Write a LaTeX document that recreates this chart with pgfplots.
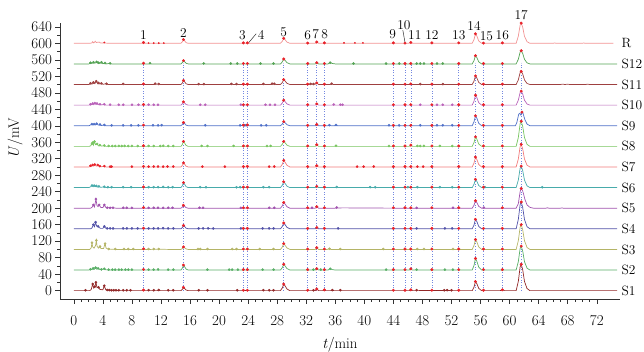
\documentclass[border=0pt]{standalone}
\usepackage{pgfplots}
\pgfplotsset{compat=1.18}
\definecolor{cR}{HTML}{F29393}
\definecolor{cSa}{HTML}{55A355}
\definecolor{cSb}{HTML}{9E4040}
\definecolor{cSc}{HTML}{B962B9}
\definecolor{cSd}{HTML}{4F70C8}
\definecolor{cSe}{HTML}{78C560}
\definecolor{cSf}{HTML}{F27B7B}
\definecolor{cSg}{HTML}{48ABAB}
\definecolor{cSh}{HTML}{A052AE}
\definecolor{cSi}{HTML}{5252A8}
\definecolor{cSj}{HTML}{B4B466}
\definecolor{cSk}{HTML}{58AE66}
\definecolor{cSl}{HTML}{922828}
\definecolor{rdot}{HTML}{E8222A}
\definecolor{vline}{HTML}{7488E0}
\newcommand\pl{\fontsize{13.5}{16}\selectfont}
\begin{document}
\begin{tikzpicture}
\begin{axis}[
  scale only axis, width=560bp, height=276.6bp,
  xmin=-1.9, xmax=75.2, ymin=-21, ymax=650,
  axis x line=bottom, axis y line=left, axis line style={-, black!80, line width=0.6pt},
  tick align=outside, major tick length=4.5bp, minor tick length=2.5bp,
  tick style={black!80, line width=0.5pt},
  xtick={0,4,...,72}, minor x tick num=3,
  ytick={0,40,...,640}, minor y tick num=1,
  /pgf/number format/assume math mode=true,
  tick label style={font=\fontsize{15}{18}\selectfont},
  label style={font=\fontsize{15}{18}\selectfont},
  xticklabel style={yshift=-8bp},
  xlabel={\textit{t}/min},
  xlabel style={at={(axis description cs:0.5,0)}, anchor=center, yshift=-45.7bp},
  ylabel={\textit{U}/mV},
  ylabel style={at={(axis description cs:-0.080,0.583)}, anchor=center},
  clip=false,
  unbounded coords=jump,
]
% vertical dotted lines
\addplot[vline, dotted, line width=0.6pt] coordinates {
(9.6,0)(9.6,553)(9.6,nan)(15.1,0)(15.1,553)(15.1,nan)(23.35,0)(23.35,553)(23.35,nan)
(23.9,0)(23.9,553)(23.9,nan)(28.9,0)(28.9,553)(28.9,nan)(32.2,0)(32.2,553)(32.2,nan)
(33.45,0)(33.45,553)(33.45,nan)(34.5,0)(34.5,553)(34.5,nan)(44.0,0)(44.0,553)(44.0,nan)
(45.6,0)(45.6,553)(45.6,nan)(46.4,0)(46.4,553)(46.4,nan)(49.3,0)(49.3,553)(49.3,nan)
(53.0,0)(53.0,553)(53.0,nan)(55.3,0)(55.3,553)(55.3,nan)(56.4,0)(56.4,553)(56.4,nan)
(59.0,0)(59.0,553)(59.0,nan)(61.6,0)(61.6,553)};

% ---------- R ----------
\addplot[cR, line width=0.7pt] coordinates {
(0,600)(2.2,600)(2.5,601)(2.6,604)(2.75,601)(2.95,605)(3.1,602)(3.5,603)(3.7,600.5)(4.1,600.5)(4.2,602)(4.35,600.5)(5,600)
(9.45,600)(9.6,602)(9.75,600)
(14.75,600)(14.95,603.6)(15.1,609)(15.25,606.3)(15.45,601.8)(15.75,600)
(23.2,600)(23.35,601)(23.6,600)(23.8,600)(23.9,601)(24.05,600)
(28.45,600)(28.7,604.8)(28.9,612)(29.1,608.4)(29.35,603)(29.75,600)
(33.25,600)(33.45,603)(33.7,600)(37,600)(37.2,601)(37.4,600)(38.5,600)(38.7,601)(38.9,600)(39.6,600)(39.8,601)(40,600)
(46.2,600)(46.4,602)(46.6,600)
(54.85,600)(55.1,609.2)(55.3,623)(55.5,617.25)(55.75,605.75)(56.15,600)
(60.9,600)(61.2,617.15)(61.45,644.1)(61.6,649)(61.8,639.2)(62.05,617.15)(62.4,603.9)(62.8,600)
(66,600)(66.2,601)(66.4,600)(70,600)(70.2,600.8)(70.4,600)(74.3,600)};
\addplot[only marks, mark=*, mark size=0.7pt, rdot] coordinates {
(4.2,602)(10.3,600.5)(11.0,600.5)(11.7,600.5)(12.4,600.5)(37.2,601)(38.7,601)(39.8,601)};
\addplot[only marks, mark=*, mark size=1.3pt, rdot] coordinates {
(9.6,602)(15.1,609)(23.35,601)(23.9,601)(28.9,612)(32.2,600.5)(33.45,603)(34.5,601)(44.0,601)(45.6,600.5)(46.4,602)(49.3,601)(53.0,601)(55.3,623)(56.4,600.5)(59.0,601)(61.6,649)};

% ---------- S12 ----------
\addplot[cSa, line width=0.7pt] coordinates {
(0,550)(2.1,550)(2.3,553)(2.5,551)(2.7,554)(2.9,551.5)(3.15,555)(3.3,552)(3.4,553)(3.6,551)(3.8,554)(4.0,550.5)(4.3,552)(4.5,550)(5.0,551.5)(5.2,550)
(9.45,550)(9.6,551.5)(9.75,550)(10.35,550)(10.5,551.5)(10.65,550)
(14.75,550)(14.95,553.2)(15.1,558)(15.25,555.6)(15.45,551.6)(15.75,550)
(17.7,550)(17.9,551)(18.1,550)(23.2,550)(23.35,551)(23.6,550)(23.8,550)(23.9,551)(24.05,550)
(28.45,550)(28.7,554.8)(28.9,562)(29.1,558.4)(29.35,553)(29.75,550)
(33.25,550)(33.45,553)(33.7,550)(35.0,550)(35.3,553)(35.6,551)(36.0,550)
(54.85,550)(55.1,558)(55.3,570)(55.5,565)(55.75,555)(56.15,550)
(60.9,550)(61.2,561.2)(61.45,578.8)(61.6,582)(61.8,575.6)(62.05,561.2)(62.4,552.6)(62.8,550)(74.8,550)};
\addplot[only marks, mark=*, mark size=1.1pt, cSa] coordinates {
(2.3,553)(2.7,554)(3.15,555)(3.4,553)(3.8,554)(4.3,552)(5.0,551.5)(10.5,551.5)(17.9,551)(21.6,551)(22.5,551)(25.7,551)(27.5,551)(35.3,553)(38.5,551)(43.0,551)(44.8,551)(47.2,551)(47.7,551)(48.2,551)(50.0,551)(50.8,551)};
\addplot[only marks, mark=*, mark size=1.3pt, rdot] coordinates {
(9.6,551.5)(15.1,558)(23.35,551)(23.9,551)(28.9,562)(32.2,551)(33.45,553)(34.5,551)(44.0,551)(45.6,551)(46.4,551)(49.3,551)(53.0,551)(55.3,570)(56.4,551)(59.0,551)(61.6,582)};

% ---------- S11 ----------
\addplot[cSb, line width=0.7pt] coordinates {
(0,500)(2.1,500)(2.3,503)(2.5,501)(2.7,505)(2.9,502)(3.1,508)(3.3,502)(3.4,504)(3.6,501)(3.8,503)(4.0,500.5)(4.5,502)(4.7,500)(6.6,500)(6.8,501.5)(7.0,500)
(9.45,500)(9.6,501.5)(9.75,500)(11.1,500)(11.2,502)(11.4,500.5)(11.7,501.5)(11.9,500)
(14.75,500)(14.95,504)(15.1,510)(15.25,507)(15.45,502)(15.75,500)
(17.1,500)(17.2,501)(17.4,500)(17.8,500)(17.9,501)(18.1,500)(21.5,500)(21.7,501.5)(21.9,500)(22.3,500)(22.4,501)(22.6,500)
(23.2,500)(23.35,501)(23.6,500)(23.9,501)(24.05,500)(26.0,500)(26.1,501.5)(26.3,500)(27.2,500)(27.3,502)(27.45,501)(27.6,502)(27.8,500)
(28.45,500)(28.7,504.8)(28.9,512)(29.1,508.4)(29.35,503)(29.75,500)
(32.4,500)(32.6,501.5)(32.8,500.5)(33.0,501.5)(33.2,500.5)(33.45,504)(33.7,500)(35.3,500)(35.5,502)(35.7,500)
(54.85,500)(55.1,508.4)(55.3,521)(55.5,515.75)(55.75,505.25)(56.15,500)
(60.9,500)(61.2,511.2)(61.45,528.8)(61.6,532)(61.8,525.6)(62.05,511.2)(62.4,502.6)(62.8,500)
(67,500)(67.3,501)(67.6,500)(68,500.8)(68.3,500)(70.5,500)(70.7,501)(71,500)(74.8,500)};
\addplot[only marks, mark=*, mark size=1.1pt, cSb] coordinates {
(2.3,503)(2.7,505)(3.1,508)(3.4,504)(3.8,503)(4.5,502)(6.8,501.5)(11.2,502)(11.7,501.5)(17.2,501)(17.9,501)(21.7,501.5)(22.4,501)(26.1,501.5)(27.3,502)(27.6,502)(32.6,501.5)(33.0,501.5)(35.5,502)(47.7,501)(50.8,501)};
\addplot[only marks, mark=*, mark size=1.3pt, rdot] coordinates {
(9.6,501.5)(15.1,510)(23.35,501)(23.9,501)(28.9,512)(32.2,501)(33.45,504)(34.5,501)(44.0,501)(45.6,501)(46.4,501.5)(49.3,501)(53.0,501)(55.3,521)(56.4,501)(59.0,501)(61.6,532)};

% ---------- S10 ----------
\addplot[cSc, line width=0.7pt] coordinates {
(0,450)(2.1,450)(2.3,452)(2.45,451)(2.6,454)(2.75,451)(2.9,455)(3.05,451.5)(3.2,454)(3.4,451)(3.6,452)(3.8,450.5)(4.2,452)(4.4,450)
(9.45,450)(9.6,451.5)(9.75,450)
(14.75,450)(14.95,453.2)(15.1,458)(15.25,455.6)(15.45,451.6)(15.75,450)
(23.2,450)(23.35,451)(23.6,450)(23.9,451)(24.05,450)
(28.45,450)(28.7,454.8)(28.9,462)(29.1,458.4)(29.35,453)(29.75,450)
(33.25,450)(33.45,453)(33.7,450)(35.6,450)(35.8,451.5)(36.0,450)
(54.85,450)(55.1,459.6)(55.3,474)(55.5,468)(55.75,456)(56.15,450)
(60.9,450)(61.2,461.9)(61.45,480.6)(61.6,484)(61.8,477.2)(62.05,461.9)(62.4,452.7)(62.8,450)(74.8,450)};
\addplot[only marks, mark=*, mark size=1.1pt, cSc] coordinates {
(2.3,452)(2.6,454)(2.9,455)(3.2,454)(3.6,452)(4.2,452)(5.0,451)(6.2,451)(6.8,451)(8.0,451)(8.9,451)(10.3,451)(11.0,451)(11.6,451)(17.4,451)(18.1,451)(23.0,451)(26.4,451)(27.0,451)(27.7,451)(35.8,451.5)(36.7,451)(37.0,451)(47.7,451)(50.0,451)(50.8,451)(52.1,451)};
\addplot[only marks, mark=*, mark size=1.3pt, rdot] coordinates {
(9.6,451.5)(15.1,458)(23.35,451)(23.9,451)(28.9,462)(32.2,451)(33.45,453)(34.5,451)(44.0,451)(45.6,451)(46.4,451)(49.3,451)(53.0,451)(55.3,474)(56.4,451)(59.0,451)(61.6,484)};

% ---------- S9 ----------
\addplot[cSd, line width=0.7pt] coordinates {
(0,400)(2.1,400)(2.3,402)(2.5,404)(2.65,401.5)(2.8,404)(3.0,402)(3.15,405)(3.35,401.5)(3.6,403)(3.8,400.5)(4.2,402)(4.4,400)
(9.45,400)(9.6,401.5)(9.75,400)
(14.75,400)(14.95,403.2)(15.1,408)(15.25,405.6)(15.45,401.6)(15.75,400)
(22.8,400)(22.9,401)(23.1,400.5)(23.35,401.5)(23.55,401)(23.75,401.5)(23.9,402)(24.1,400)
(28.45,400)(28.7,404)(28.9,410)(29.1,407)(29.35,402.5)(29.75,400)
(33.25,400)(33.45,403)(33.7,400)(35.0,400)(35.2,401.5)(35.4,400)(35.9,400)(36.1,402)(36.3,400)
(54.85,400)(55.1,409.6)(55.3,424)(55.5,418)(55.75,406)(56.15,400)
(60.8,400)(61.0,408)(61.25,428)(61.4,430)(61.55,426)(61.7,433)(61.85,430)(62.1,415)(62.4,404)(62.8,400)(74.8,400)};
\addplot[only marks, mark=*, mark size=1.1pt, cSd] coordinates {
(2.5,404)(2.8,404)(3.15,405)(3.6,403)(4.2,402)(5.2,401)(6.8,401)(7.9,401)(8.9,401)(10.9,401)(11.6,401)(12.1,401.5)(18.1,401)(22.9,401)(23.55,401)(23.75,401.5)(25.8,401)(26.5,401)(35.2,401.5)(36.1,402)(43.4,401)(44.8,401)(47.7,401)(50.0,401)(50.8,401)(52.1,401)};
\addplot[only marks, mark=*, mark size=1.3pt, rdot] coordinates {
(9.6,401.5)(15.1,408)(23.35,401.5)(23.9,402)(28.9,410)(32.2,401)(33.45,403)(34.5,401)(44.0,401)(45.6,401)(46.4,401)(49.3,401)(53.0,401)(55.3,424)(56.4,401)(59.0,401)(61.7,433)};

% ---------- S8 ----------
\addplot[cSe, line width=0.7pt] coordinates {
(0,350)(2.1,350)(2.3,351)(2.5,356)(2.6,359)(2.7,353)(2.85,362)(3.0,354)(3.2,356)(3.4,351)(3.6,353)(3.8,350.5)(4.2,352)(4.4,350)
(9.45,350)(9.6,351.5)(9.75,350)
(14.75,350)(14.95,354.8)(15.1,362)(15.25,358.4)(15.45,352.4)(15.75,350)
(23.2,350)(23.35,351)(23.6,350)(23.9,351)(24.05,350)
(28.45,350)(28.7,354.8)(28.9,362)(29.1,358.4)(29.35,353)(29.75,350)
(33.25,350)(33.45,354)(33.7,350)(35.9,350)(36.1,351.5)(36.3,350)
(46.2,350)(46.4,353)(46.6,350)
(54.85,350)(55.1,359.2)(55.3,373)(55.5,367.25)(55.75,355.75)(56.15,350)
(60.9,350)(61.2,371.35)(61.45,404.9)(61.6,411)(61.8,398.8)(62.05,371.35)(62.4,354.9)(62.8,350)(74.8,350)};
\addplot[only marks, mark=*, mark size=1.1pt, cSe] coordinates {
(2.5,356)(2.6,359)(2.85,362)(3.2,356)(3.6,353)(4.2,352)(4.8,351)(5.3,351)(5.7,351)(6.2,351)(6.6,351)(7.0,351)(7.5,351)(8.0,351)(8.8,351)(10.3,351)(11.0,351)(11.9,351)(12.3,351.5)(13.0,351)(13.7,351)(17.6,351)(18.4,351)(22.0,351)(26.6,351)(27.1,351)(36.1,351.5)(43.4,351)(47.3,351)(47.7,351)(48.2,351)(50.4,351)(52.1,351)};
\addplot[only marks, mark=*, mark size=1.3pt, rdot] coordinates {
(9.6,351.5)(15.1,362)(23.35,351)(23.9,351)(28.9,362)(32.2,351)(33.45,354)(34.5,351)(44.0,351)(45.6,351)(46.4,353)(49.3,351)(53.0,351)(55.3,373)(56.4,351)(59.0,351)(61.6,411)};

% ---------- S7 ----------
\addplot[cSf, line width=0.7pt] coordinates {
(0,300)(2.1,300)(2.3,303)(2.45,301)(2.6,305)(2.75,302)(2.9,306)(3.1,302)(3.3,305)(3.5,301)(3.6,302)(3.8,300.5)(4.2,302)(4.4,300)
(9.45,300)(9.6,301.5)(9.75,300)
(14.75,300)(14.95,304)(15.1,310)(15.25,307)(15.45,302)(15.75,300)
(23.2,300)(23.35,301)(23.6,300)(23.9,301.5)(24.1,300)
(28.45,300)(28.7,306.4)(28.9,316)(29.1,311.2)(29.35,304)(29.75,300)
(33.25,300)(33.45,303)(33.7,300)
(54.85,300)(55.1,309.6)(55.3,324)(55.5,318)(55.75,306)(56.15,300)
(60.9,300)(61.2,319.25)(61.45,349.5)(61.6,355)(61.8,344)(62.05,319.25)(62.4,304.4)(62.8,300)(74.8,300)};
\addplot[only marks, mark=*, mark size=1.1pt, rdot] coordinates {
(2.3,303)(2.6,305)(2.9,306)(3.3,305)(3.6,302)(4.2,302)(5.0,301)(5.2,301)(8.0,301)(10.3,301)(11.0,301)(11.6,301)(12.3,301)(12.9,301)(13.7,301)(17.7,301)(20.8,301)(26.9,301)(27.6,301)(39.0,301)(39.9,301)(41.3,301)(47.3,301)(48.1,301)};
\addplot[only marks, mark=*, mark size=1.3pt, rdot] coordinates {
(9.6,301.5)(15.1,310)(23.35,301)(23.9,301.5)(28.9,316)(32.2,301)(33.45,303)(34.5,301)(44.0,301)(45.6,301)(46.4,301)(49.3,301)(53.0,301)(55.3,324)(56.4,301)(59.0,301)(61.6,355)};

% ---------- S6 ----------
\addplot[cSg, line width=0.7pt] coordinates {
(0,250)(2.1,250)(2.3,252)(2.5,255)(2.65,252)(2.8,255)(2.95,252)(3.1,254)(3.3,251)(3.45,253)(3.7,250.5)(4.2,252)(4.4,250)
(9.45,250)(9.6,251.5)(9.75,250)
(14.75,250)(14.95,254.8)(15.1,262)(15.25,258.4)(15.45,252.4)(15.75,250)
(23.2,250)(23.35,251)(23.6,250)(23.9,251)(24.05,250)
(28.45,250)(28.7,255.6)(28.9,264)(29.1,259.8)(29.35,253.5)(29.75,250)
(33.25,250)(33.45,253)(33.7,250)(36.0,250)(36.2,251.5)(36.4,250)
(54.85,250)(55.1,258)(55.3,270)(55.5,265)(55.75,255)(56.15,250)
(60.9,250)(61.2,268.2)(61.45,296.8)(61.6,302)(61.8,291.6)(62.05,268.2)(62.4,254.2)(62.8,250)(74.8,250)};
\addplot[only marks, mark=*, mark size=1.1pt, cSg] coordinates {
(2.5,255)(2.8,255)(3.1,254)(3.45,253)(4.2,252)(4.7,251)(5.2,251)(6.8,251)(7.9,251)(10.3,251)(11.0,251)(11.6,251)(12.3,251.5)(13.0,251)(13.6,251)(17.4,251)(18.2,251)(22.4,251)(22.9,251)(26.1,251)(26.9,251)(36.2,251.5)(40.8,251)(41.5,251)(46.0,251)(47.3,251)(50.4,251)(52.1,251)(56.6,251)(64.5,251)};
\addplot[only marks, mark=*, mark size=1.3pt, rdot] coordinates {
(9.6,251.5)(15.1,262)(23.35,251)(23.9,251)(28.9,264)(32.2,251)(33.45,253)(34.5,251)(44.0,251)(45.6,251)(46.4,251)(49.3,251)(53.0,251)(55.3,270)(56.4,251)(59.0,251)(61.6,302)};

% ---------- S5 ----------
\addplot[cSh, line width=0.7pt] coordinates {
(0,200)(2.3,200)(2.5,202)(2.7,208)(2.85,203)(3.05,222)(3.2,206)(3.35,204)(3.5,208)(3.7,202)(4.0,201.5)(4.2,208)(4.4,202)(4.6,201)(5.4,201)(5.8,200)
(9.45,200)(9.6,201.5)(9.75,200)
(14.75,200)(14.95,202.8)(15.1,207)(15.25,204.9)(15.45,201.4)(15.75,200)
(23.2,200)(23.35,201)(23.6,200)(23.9,201)(24.05,200)
(28.45,200)(28.7,205.6)(28.9,214)(29.1,209.8)(29.35,203.5)(29.75,200)
(33.25,200)(33.45,203.5)(33.7,200)(36.0,200)(36.2,201.5)(36.4,200.5)(37,200.8)(40,200.5)(45,200)
(54.85,200)(55.1,207.2)(55.3,218)(55.5,213.5)(55.75,204.5)(56.15,200)(56.3,200)(56.45,201.5)(56.6,200)
(60.9,200)(61.2,211)(61.45,240)(61.6,248)(61.75,244)(61.9,236)(62.1,222)(62.4,208)(62.8,202)(63.3,200)
(65,200)(65.2,201)(65.4,200)(67,200)(67.2,200.8)(67.4,200)(74.8,200)};
\addplot[only marks, mark=*, mark size=1.1pt, cSh] coordinates {
(2.7,208)(3.05,222)(3.5,208)(4.2,208)(4.6,201)(5.0,201)(5.4,201)(6.8,201)(7.3,201)(8.0,201)(10.3,201)(11.0,201)(11.6,201)(12.3,201)(13.0,201)(13.6,201)(17.3,201)(17.8,201)(23.0,201)(26.9,201)(27.6,201)(32.8,201)(36.2,201.5)(47.2,201)(52.2,201)(56.45,201.5)};
\addplot[only marks, mark=*, mark size=1.3pt, rdot] coordinates {
(9.6,201.5)(15.1,207)(23.35,201)(23.9,201)(28.9,214)(32.2,201)(33.45,203.5)(34.5,201)(44.0,201)(45.6,201)(46.4,201)(49.3,201)(53.0,201)(55.3,218)(59.0,201)(61.6,248)};

% ---------- S4 ----------
\addplot[cSi, line width=0.7pt] coordinates {
(0,150)(2.3,150)(2.5,152)(2.7,160)(2.85,155)(3.0,166)(3.15,156)(3.35,156)(3.5,153)(3.7,151)(4.0,151)(4.2,156)(4.4,151.5)(4.6,150.5)(5.4,150.5)(5.8,150)
(9.45,150)(9.6,151.5)(9.75,150)
(14.75,150)(14.95,153.2)(15.1,158)(15.25,155.6)(15.45,151.6)(15.75,150)
(17,150)(17.2,151)(17.8,151)(18.5,151)(19,150)(23.2,150)(23.35,151)(23.6,150)(23.9,151)(24.05,150)
(28.45,150)(28.7,155.6)(28.9,164)(29.1,159.8)(29.35,153.5)(29.75,150)
(33.25,150)(33.45,153)(33.7,150)
(54.85,150)(55.1,159.2)(55.3,173)(55.5,167.25)(55.75,155.75)(56.15,150)
(60.9,150)(61.2,172.75)(61.45,208.5)(61.6,215)(61.8,202)(62.05,172.75)(62.4,155.2)(62.8,150)(74.8,150)};
\addplot[only marks, mark=*, mark size=1.1pt, cSi] coordinates {
(2.7,160)(3.0,166)(3.35,156)(4.2,156)(4.6,151)(5.0,151)(5.4,151)(6.8,151)(7.3,151)(8.0,151)(8.8,151)(10.3,151)(11.0,151)(11.6,151)(12.3,151.5)(13.0,151)(13.7,151)(17.2,151)(17.8,151)(18.5,151)(19.2,151)(23.0,151)(26.0,151)(26.9,151)(27.5,151)(36.4,151)(47.2,151)(51.1,151)(52.1,151)};
\addplot[only marks, mark=*, mark size=1.3pt, rdot] coordinates {
(9.6,151.5)(15.1,158)(23.35,151)(23.9,151)(28.9,164)(32.2,151)(33.45,153)(34.5,151)(44.0,151)(45.6,151)(46.4,151)(49.3,151)(53.0,151)(55.3,173)(56.4,151)(59.0,151)(61.6,215)};

% ---------- S3 ----------
\addplot[cSj, line width=0.7pt] coordinates {
(0,100)(2.2,100)(2.4,104)(2.5,116)(2.6,106)(2.8,103)(3.0,110)(3.1,122)(3.2,108)(3.4,103)(3.6,107)(3.75,102)(4.1,102)(4.3,114)(4.45,103)(4.7,101)(5.2,100.5)(5.8,100)
(9.45,100)(9.6,101.5)(9.75,100)(10.5,100)(12,100.5)(13,100)
(14.75,100)(14.95,102.4)(15.1,106)(15.25,104.2)(15.45,101.2)(15.75,100)
(23.2,100)(23.35,101)(23.6,100)(23.9,101)(24.05,100)
(28.45,100)(28.7,105.6)(28.9,114)(29.1,109.8)(29.35,103.5)(29.75,100)
(33.25,100)(33.45,104)(33.7,100)(34.9,100)(35.2,101.5)(35.4,100)
(54.85,100)(55.1,109.6)(55.3,124)(55.5,118)(55.75,106)(56.15,100)
(60.9,100)(61.2,121)(61.45,154)(61.6,160)(61.8,148)(62.05,121)(62.4,104.8)(62.8,100)(74.8,100)};
\addplot[only marks, mark=*, mark size=1.1pt, cSj] coordinates {
(2.5,116)(3.1,122)(3.6,107)(4.3,114)(4.8,101)(5.7,101)(6.9,101)(7.5,101)(8.2,101)(10.3,101)(11.0,101)(11.7,101)(17.1,101)(17.4,101)(18.4,101)(21.8,101)(22.4,101)(25.6,101)(27.5,101)(35.2,101.5)(36.7,101)(42.6,101)(47.3,101)(48.2,101)(52.2,101)};
\addplot[only marks, mark=*, mark size=1.3pt, rdot] coordinates {
(9.6,101.5)(15.1,106)(23.35,101)(23.9,101)(28.9,114)(32.2,101)(33.45,104)(34.5,101)(44.0,101)(45.6,101)(46.4,101)(49.3,101)(53.0,101)(55.3,124)(56.4,101)(59.0,101)(61.6,160)};

% ---------- S2 ----------
\addplot[cSk, line width=0.7pt] coordinates {
(0,50)(2.1,50)(2.3,52)(2.5,51)(2.65,54)(2.8,51.5)(3.0,56)(3.15,52)(3.35,54)(3.6,51)(3.8,51.5)(4.2,53)(4.4,50.5)(5,50)
(9.45,50)(9.6,51.5)(9.75,50)
(14.75,50)(14.95,54.8)(15.1,62)(15.25,58.4)(15.45,52.4)(15.75,50)
(23.2,50)(23.35,51)(23.6,50)(23.9,51)(24.05,50)
(28.45,50)(28.7,55.6)(28.9,64)(29.1,59.8)(29.35,53.5)(29.75,50)
(33.25,50)(33.45,53)(33.7,50)(35.0,50)(35.3,53)(35.6,51)(36,50)
(46.2,50)(46.4,53)(46.6,50)
(54.85,50)(55.1,61.2)(55.3,78)(55.5,71)(55.75,57)(56.15,50)
(60.9,50)(61.2,70.3)(61.45,102.2)(61.6,108)(61.8,96.4)(62.05,70.3)(62.4,54.6)(62.8,50)(74.8,50)};
\addplot[only marks, mark=*, mark size=1.1pt, cSk] coordinates {
(2.3,52)(2.65,54)(3.0,56)(3.35,54)(3.8,51.5)(4.2,53)(4.8,51)(5.3,51)(5.7,51)(6.2,51)(6.6,51)(7.1,51)(7.5,51)(8.0,51)(10.3,51)(11.0,51)(11.6,51.5)(13.0,51)(13.7,51)(18.4,51)(21.4,51)(21.8,51)(22.6,51)(26.0,51)(27.5,51)(33.0,51)(34.0,51)(35.3,53)(43.0,51)(47.2,51)(51.1,51)(52.2,51)};
\addplot[only marks, mark=*, mark size=1.3pt, rdot] coordinates {
(9.6,51.5)(15.1,62)(23.35,51)(23.9,51)(28.9,64)(32.2,51)(33.45,53)(34.5,51)(44.0,51)(45.6,51)(46.4,53)(49.3,51)(53.0,51)(55.3,78)(56.4,51)(59.0,51)(61.6,108)};

% ---------- S1 ----------
\addplot[cSl, line width=0.7pt] coordinates {
(0,0)(1.5,0)(1.6,1)(1.75,0)(2.2,0)(2.4,3)(2.6,16)(2.75,6)(2.9,10)(3.05,20)(3.2,7)(3.4,8)(3.6,3)(4.0,2)(4.2,12)(4.4,2)(4.8,1.5)(5.5,1)(6.0,0.5)(6.5,0)
(9.45,0)(9.6,1.5)(9.75,0)(11.5,0)(11.7,1.5)(11.9,0)
(14.75,0)(14.95,3.2)(15.1,8)(15.25,5.6)(15.45,1.6)(15.75,0)
(23.2,0)(23.35,1)(23.6,0)(23.9,1)(24.05,0)
(28.45,0)(28.7,6.4)(28.9,16)(29.1,11.2)(29.35,4)(29.75,0)
(33.25,0)(33.45,4)(33.7,0)(34.3,0)(34.5,2)(34.7,0)(35.4,0)(35.6,1.5)(35.8,0)
(46.2,0)(46.4,2)(46.6,0)(51,0.5)(52,0)
(54.85,0)(55.1,8.8)(55.3,22)(55.5,16.5)(55.75,5.5)(56.15,0)
(58.7,0)(59.0,2)(59.3,0)
(60.9,0)(61.2,22.4)(61.45,57.6)(61.6,64)(61.8,51.2)(62.05,22.4)(62.4,5.12)(62.8,0)(74.8,0)};
\addplot[only marks, mark=*, mark size=1.1pt, cSl] coordinates {
(1.6,1)(2.6,16)(2.9,10)(3.05,20)(3.4,8)(4.2,12)(4.6,1.5)(4.9,1.5)(5.2,1)(5.5,1)(5.8,1)(6.2,1)(6.8,1)(7.3,1)(7.8,1)(10.3,1)(11.0,1)(11.7,1.5)(13.0,1)(13.7,1)(17.2,1)(18.4,1)(22.5,1)(26.1,1)(26.9,1)(27.5,1)(33.0,1)(35.6,1.5)(36.7,1)(47.2,1)(51.0,1)(51.4,1)(52.0,1)};
\addplot[only marks, mark=*, mark size=1.3pt, rdot] coordinates {
(9.6,1.5)(15.1,8)(23.35,1)(23.9,1)(28.9,16)(32.2,1)(33.45,4)(34.5,2)(44.0,1)(45.6,1)(46.4,2)(49.3,1)(53.0,1)(55.3,22)(56.4,1)(59.0,2)(61.6,64)};

% peak labels
\begin{scope}[every node/.style={font=\pl, inner sep=0pt}]
\node at (axis cs:9.6,621) {1};
\node at (axis cs:15.1,626) {2};
\node at (axis cs:23.2,620) {3};
\draw[black!80, line width=0.5pt] (axis cs:24.1,602) -- (axis cs:25.1,623);
\node at (axis cs:25.8,621) {4};
\node at (axis cs:28.9,627) {5};
\node at (axis cs:32.2,620) {6};
\node at (axis cs:33.3,623) {7};
\node at (axis cs:34.55,623) {8};
\node at (axis cs:43.9,622) {9};
\draw[black!80, line width=0.5pt] (axis cs:45.6,602) -- (axis cs:45.3,632);
\node at (axis cs:45.45,644) {10};
\node at (axis cs:46.95,621) {11};
\node at (axis cs:49.3,620) {12};
\node at (axis cs:53.0,620) {13};
\node at (axis cs:55.1,642) {14};
\node at (axis cs:56.8,617) {15};
\node at (axis cs:59.0,620) {16};
\node at (axis cs:61.6,668) {17};
\end{scope}
% trace labels
\begin{scope}[every node/.style={font=\pl, anchor=west, inner sep=0pt}]
\node at (axis cs:75.4,600) {R};
\node at (axis cs:75.4,550) {S12};
\node at (axis cs:75.4,500) {S11};
\node at (axis cs:75.4,450) {S10};
\node at (axis cs:75.4,400) {S9};
\node at (axis cs:75.4,350) {S8};
\node at (axis cs:75.4,300) {S7};
\node at (axis cs:75.4,250) {S6};
\node at (axis cs:75.4,200) {S5};
\node at (axis cs:75.4,150) {S4};
\node at (axis cs:75.4,100) {S3};
\node at (axis cs:75.4,50) {S2};
\node at (axis cs:75.4,0) {S1};
\end{scope}
\end{axis}
\pgfresetboundingbox
\path[use as bounding box] ([xshift=-60bp,yshift=-52.7bp]current axis.south west) rectangle ++(644bp,352bp);
\end{tikzpicture}
\end{document}
